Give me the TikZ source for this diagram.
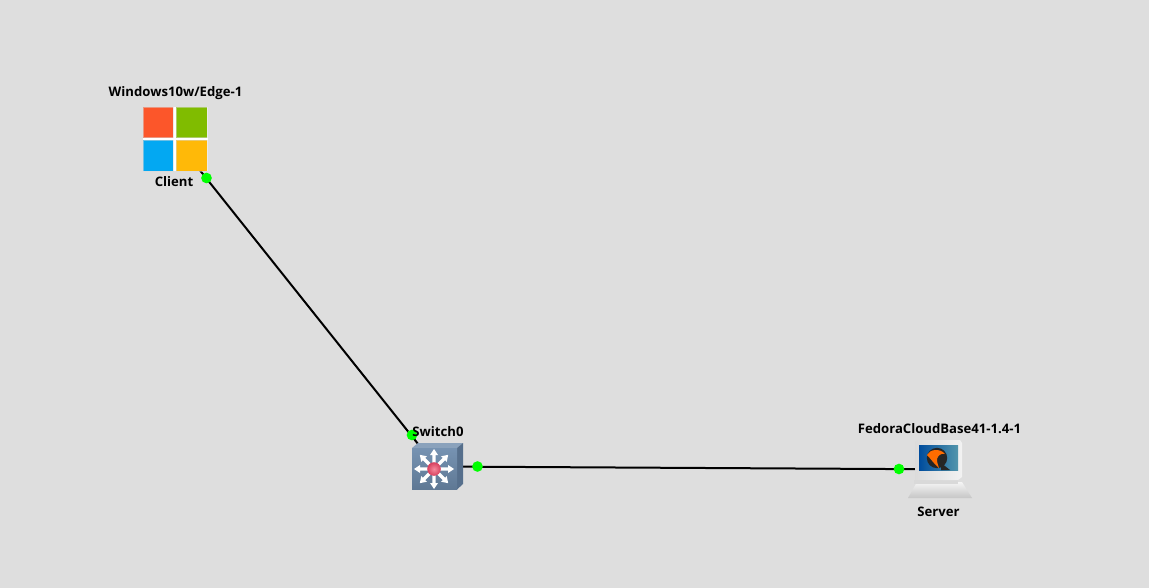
\documentclass[tikz,border=0pt]{standalone}
\usepackage{fontspec}
\setmainfont{Open Sans}
\tikzset{
  devlabel/.style={font=\bfseries\fontsize{9.85pt}{11pt}\selectfont, text=black, inner sep=0pt},
  anchorbox/.style={inner sep=0pt, minimum size=1pt},
  linkline/.style={draw=black, line width=1.5pt},
  portdot/.style={circle, fill=green, inner sep=0pt, minimum size=8pt},
  pane/.style={draw=white!70!gray, draw opacity=.5, line width=.3pt}
}
\definecolor{bg}{HTML}{DEDEDE}
\definecolor{msred}{HTML}{FC562A}
\definecolor{msgreen}{HTML}{80BC00}
\definecolor{msblue}{HTML}{03A8F2}
\definecolor{msyellow}{HTML}{FFB908}
\definecolor{swfront}{HTML}{6F8DAE}
\definecolor{swtop}{HTML}{8AA2BC}
\definecolor{swside}{HTML}{566F8C}
\definecolor{ballin}{HTML}{F58A9C}
\definecolor{ballout}{HTML}{D63F5E}
\begin{document}
\begin{tikzpicture}[x=0.75pt,y=-0.75pt]
\useasboundingbox (0,0) rectangle (1149,588);
\fill[bg] (0,0) rectangle (1149,588);
% anchors for devices
\node[anchorbox] (client) at (175,139) {};
\node[anchorbox] (switch) at (436,466.5) {};
\node[anchorbox] (server) at (940,469.3) {};
% links
\draw[linkline] (client.center) -- (switch.center);
\draw[linkline] (switch.center) -- (server.center);
% client icon
\fill[white] (143,107) rectangle (207.5,171.5);
\fill[msred,pane] (142.8,107.2) rectangle (173.4,137.7);
\fill[msgreen,pane] (176.4,107.2) rectangle (207.4,137.7);
\fill[msblue,pane] (142.8,140.4) rectangle (173.4,171);
\fill[msyellow,pane] (176.4,140.4) rectangle (207.4,171);
% switch icon
\fill[swtop] (412,448) -- (418,443) -- (463,443) -- (457,448) -- cycle;
\fill[swside] (457,448) -- (463,443) -- (463,484) -- (457,489.5) -- cycle;
\shade[top color=swfront!95!white, bottom color=swfront!85!black] (412,448) rectangle (457,489.5);
\foreach \a in {0,45,...,315}{
  \begin{scope}[shift={(434,469)},rotate=\a]
    \fill[white] (4,-1.7) -- (14,-1.7) -- (14,-4) -- (20,0) -- (14,4) -- (14,1.7) -- (4,1.7) -- cycle;
  \end{scope}
}
\shade[inner color=ballin, outer color=ballout] (434,469) circle (6.8);
% server icon
\shade[top color=white!92!gray, bottom color=white!55!gray] (917,482) -- (962,482) -- (972,498) -- (908,498) -- cycle;
\fill[white!70!gray] (914,480) rectangle (958,484);
\shade[left color=white!72!gray, right color=white!90!gray] (915,442) -- (917,440) -- (960,440) -- (962,443) -- (962,477) -- (958,480) -- (915,480) -- cycle;
\shade[left color=blue!45!black!70!cyan, right color=blue!25!cyan!35!gray] (919,445) rectangle (958,470);
\fill[black!85] (937,458) circle (10.2);
\fill[black!85] (941,463) -- (950,470) -- (941,470) -- cycle;
\fill[orange!85!red] (927,455) .. controls (930,449) and (940,448) .. (945,454) .. controls (940,453) and (938,456) .. (937,459) .. controls (937,463) and (938,465) .. (939,468) .. controls (934,464) and (931,459) .. (927,455) -- cycle;
% ports
\node[portdot] (p1) at (206.5,178) {};
\node[portdot] (p2) at (412,435) {};
\node[portdot] (p3) at (477.5,466.5) {};
\node[portdot] (p4) at (899,469) {};
% labels
\node[devlabel] (lclienta) at (175.5,93.5) {Windows10w/Edge-1};
\node[devlabel] (lclientb) at (174,181.5) {Client};
\node[devlabel] (lswitch) at (438,431.5) {Switch0};
\node[devlabel] (lservera) at (939.5,429) {FedoraCloudBase41-1.4-1};
\node[devlabel] (lserverb) at (938.5,511.5) {Server};
\end{tikzpicture}
\end{document}
